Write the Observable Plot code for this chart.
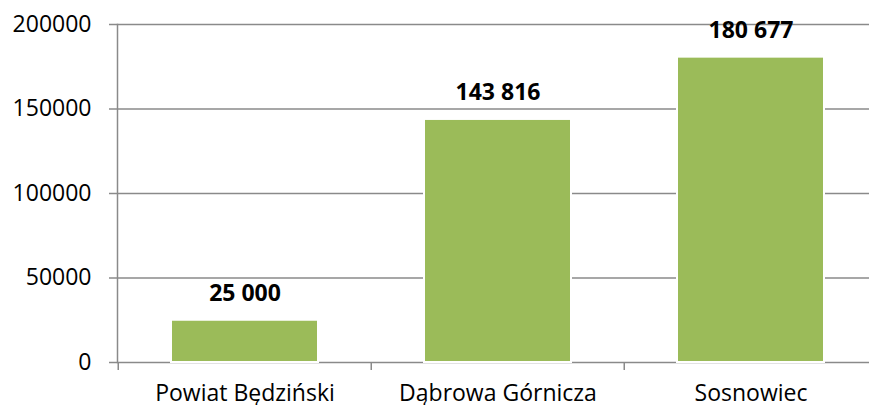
<!DOCTYPE html>
<html>
<head>
<meta charset="utf-8">
<script src="https://cdn.jsdelivr.net/npm/d3@7"></script>
<script src="https://cdn.jsdelivr.net/npm/@observablehq/plot@0.6"></script>
<style>
  html, body { margin: 0; padding: 0; background: #fff; overflow: hidden; }
  #chart svg { display: block; font-family: "Open Sans", sans-serif; }
</style>
</head>
<body>
<div id="chart"></div>
<script>
const categories = ["Powiat Będziński", "Dąbrowa Górnicza", "Sosnowiec"];
const values = [25000, 143816, 180677];
const yTicks = [0, 50000, 100000, 150000, 200000];

const data = categories.map((c, i) => ({category: c, value: values[i]}));
const fmt = d3.formatLocale({decimal: ",", thousands: " ", grouping: [3], currency: ["", " zł"]}).format(",d");

const W = 869, H = 405;
const left = 117, step = 253.5;
const gray = "#8a8a8a";

const chart = Plot.plot({
  width: W,
  height: H,
  marginLeft: left,
  marginRight: 0,
  marginTop: 24,
  marginBottom: 43,
  style: {fontSize: "23px", fontFamily: "'Open Sans', sans-serif", color: "#000", background: "#fff"},
  x: {domain: categories, range: [left, left + 3 * step], padding: 0, axis: null, label: null},
  y: {domain: [0, 200000], axis: null, label: null},
  marks: [
    Plot.gridY(yTicks, {stroke: gray, strokeOpacity: 1, strokeWidth: 1.5}),
    Plot.frame({anchor: "left", stroke: gray, strokeWidth: 1.5}),
    Plot.axisY(yTicks, {tickSize: 8, tickPadding: 18, stroke: gray, strokeWidth: 1.5, tickFormat: d => String(d), fill: "#000", fontSize: 23, label: null}),
    // category separators (tick marks at band boundaries)
    Plot.axisX({tickSize: 8, tickFormat: null, dx: -step / 2, stroke: gray, strokeWidth: 1.5, label: null}),
    Plot.axisX({tickSize: 0, tickPadding: 22, fill: "#000", fontSize: 23, label: null}),
    Plot.barY(data, {x: "category", y: "value", fill: "#9BBB59", stroke: "white", strokeWidth: 2, insetLeft: 53, insetRight: 53}),
    Plot.text(data, {x: "category", y: "value", text: d => fmt(d.value), dy: -27, fontWeight: "bold", fontSize: 23, fill: "#000"})
  ]
});
document.getElementById("chart").appendChild(chart);
</script>
</body>
</html>
